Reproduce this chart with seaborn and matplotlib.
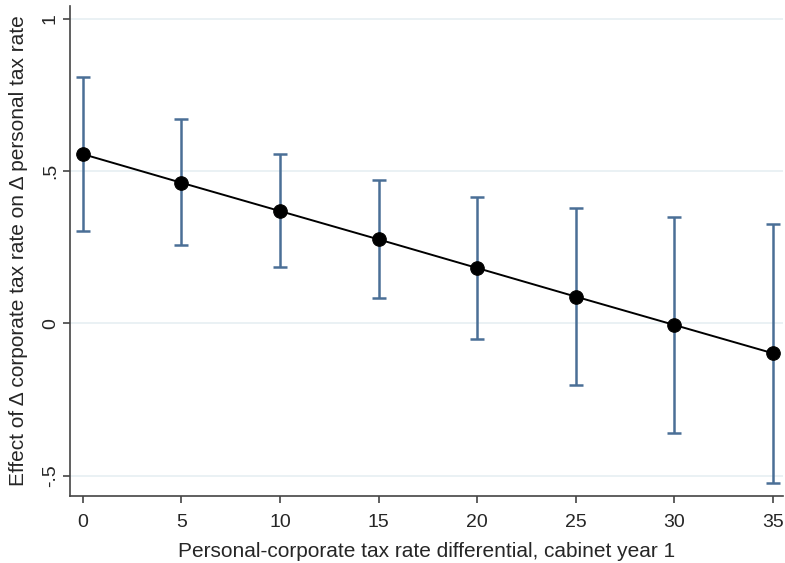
import matplotlib
matplotlib.use("Agg")
import matplotlib.pyplot as plt
import seaborn as sns
import pandas as pd

# Marginal effect estimates with 95% confidence intervals
differential = [0, 5, 10, 15, 20, 25, 30, 35]
effect = [0.556, 0.462, 0.369, 0.276, 0.182, 0.088, -0.005, -0.098]
ci_lower = [0.304, 0.257, 0.186, 0.083, -0.052, -0.203, -0.361, -0.525]
ci_upper = [0.810, 0.671, 0.555, 0.470, 0.416, 0.380, 0.350, 0.328]

x_ticks = [0, 5, 10, 15, 20, 25, 30, 35]
y_ticks = [-0.5, 0, 0.5, 1]
y_tick_labels = ["-.5", "0", ".5", "1"]

df = pd.DataFrame({
    "differential": differential,
    "effect": effect,
    "lower": ci_lower,
    "upper": ci_upper,
})

sns.set_style("white")
plt.rcParams["font.family"] = ["Liberation Sans", "DejaVu Sans"]

fig = plt.figure(figsize=(7.85, 5.63), dpi=100)
ax = fig.add_axes([0.089, 0.119, 0.908, 0.870])

# horizontal grid lines
for yv in y_ticks:
    ax.axhline(yv, color="#e6eff2", linewidth=1.2, zorder=0)

# confidence interval caps and stems
ax.errorbar(
    df["differential"], df["effect"],
    yerr=[df["effect"] - df["lower"], df["upper"] - df["effect"]],
    fmt="none", ecolor="#4a6f96", elinewidth=1.8, capsize=5, capthick=1.8,
    zorder=2,
)

sns.lineplot(data=df, x="differential", y="effect", color="black",
             linewidth=1.4, ax=ax, zorder=3)
sns.scatterplot(data=df, x="differential", y="effect", color="black",
                s=95, edgecolor="black", ax=ax, zorder=4)

ax.set_xlim(-0.66, 35.5)
ax.set_ylim(-0.567, 1.042)
ax.set_xticks(x_ticks)
ax.set_yticks(y_ticks)
ax.set_yticklabels(y_tick_labels, rotation=90, va="center")

ax.set_xlabel("Personal-corporate tax rate differential, cabinet year 1",
              fontsize=15, labelpad=8)
ax.set_ylabel("Effect of \u0394 corporate tax rate on \u0394 personal tax rate",
              fontsize=15, labelpad=10)

ax.tick_params(axis="both", which="major", direction="out", length=5,
               width=1.2, color="#444444", labelsize=14,
               bottom=True, left=True)
ax.tick_params(axis="x", pad=8)
ax.tick_params(axis="y", pad=3)

sns.despine(ax=ax, top=True, right=True)
for side in ["left", "bottom"]:
    ax.spines[side].set_color("#444444")
    ax.spines[side].set_linewidth(1.2)

fig.savefig("out.png", dpi=100)
